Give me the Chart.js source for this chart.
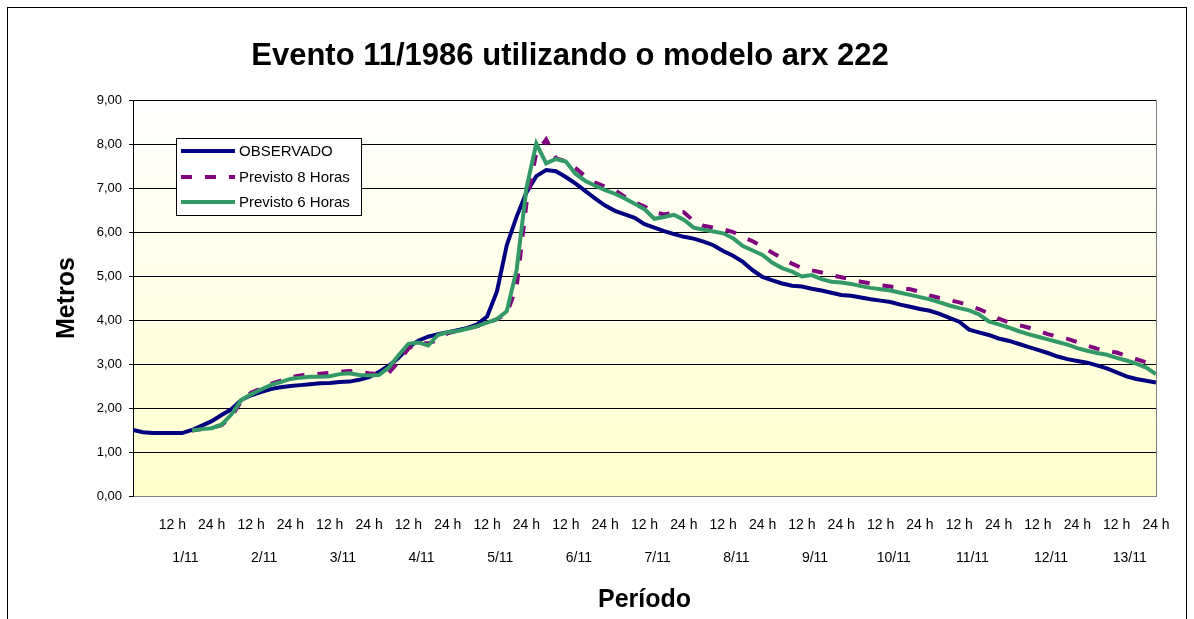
<!DOCTYPE html>
<html><head><meta charset="utf-8">
<script src="https://cdn.jsdelivr.net/npm/chart.js@4.4.1/dist/chart.umd.min.js"></script>
<style>
html,body{margin:0;padding:0;background:#fff;}
#wrap{position:relative;width:1194px;height:619px;overflow:hidden;}
#frame{position:absolute;left:7px;top:7px;width:1180px;height:700px;border:1px solid #000;box-sizing:border-box;}
canvas{position:absolute;left:0;top:0;}
</style></head><body>
<div id="wrap"><div id="frame"></div><canvas id="c" width="1194" height="619"></canvas></div>
<script>
const titleText = 'Evento 11/1986 utilizando o modelo arx 222';
const yTitle = 'Metros';
const xTitle = 'Período';
const days = ['1/11','2/11','3/11','4/11','5/11','6/11','7/11','8/11','9/11','10/11','11/11','12/11','13/11'];
const tickHours = [12,24,36,48,60,72,84,96,108,120,132,144,156,168,180,192,204,216,228,240,252,264,276,288,300,312];
const tickLabels = ['12 h','24 h','12 h','24 h','12 h','24 h','12 h','24 h','12 h','24 h','12 h','24 h','12 h','24 h','12 h','24 h','12 h','24 h','12 h','24 h','12 h','24 h','12 h','24 h','12 h','24 h'];
const hours = [0,3,6,9,12,15,18,21,24,27,30,33,36,39,42,45,48,51,54,57,60,63,66,69,72,75,78,81,84,87,90,93,96,99,102,105,108,111,114,117,120,123,126,129,132,135,138,141,144,147,150,153,156,159,162,165,168,171,174,177,180,183,186,189,192,195,198,201,204,207,210,213,216,219,222,225,228,231,234,237,240,243,246,249,252,255,258,261,264,267,270,273,276,279,282,285,288,291,294,297,300,303,306,309,312];
const observado = [
1.50,1.45,1.43,1.43,1.43,1.43,1.50,1.60,
1.70,1.84,1.97,2.18,2.29,2.36,2.43,2.47,
2.50,2.52,2.54,2.56,2.57,2.59,2.60,2.64,
2.70,2.82,2.96,3.14,3.38,3.53,3.62,3.68,
3.72,3.77,3.82,3.90,4.08,4.65,5.70,6.35,
6.90,7.27,7.41,7.38,7.25,7.10,6.93,6.76,
6.60,6.48,6.40,6.32,6.18,6.10,6.02,5.95,
5.89,5.85,5.78,5.70,5.57,5.46,5.32,5.13,
4.98,4.90,4.83,4.78,4.76,4.71,4.67,4.62,
4.57,4.55,4.51,4.47,4.44,4.41,4.35,4.30,
4.25,4.21,4.14,4.05,3.96,3.78,3.72,3.66,
3.58,3.53,3.46,3.39,3.32,3.25,3.17,3.11,
3.07,3.03,2.97,2.90,2.81,2.72,2.66,2.62,
2.58];
const previsto8 = [
null,null,null,null,null,null,1.49,1.52,
1.55,1.61,1.80,2.15,2.35,2.44,2.55,2.62,
2.70,2.74,2.76,2.78,2.80,2.82,2.84,2.82,
2.79,2.77,2.80,3.05,3.35,3.48,3.47,3.55,
3.70,3.76,3.80,3.86,3.93,4.02,4.15,4.75,
6.65,7.80,8.10,7.68,7.60,7.45,7.26,7.12,
7.03,6.95,6.80,6.67,6.58,6.45,6.40,6.44,
6.45,6.25,6.14,6.10,6.06,6.00,5.88,5.79,
5.66,5.53,5.40,5.28,5.18,5.13,5.08,5.02,
4.97,4.92,4.87,4.83,4.79,4.76,4.73,4.70,
4.64,4.56,4.50,4.45,4.40,4.33,4.25,4.15,
4.03,3.95,3.89,3.83,3.76,3.68,3.62,3.57,
3.50,3.42,3.35,3.30,3.26,3.18,3.11,3.04,
2.95];
const previsto6 = [
null,null,null,null,null,null,1.49,1.52,
1.54,1.62,1.85,2.18,2.31,2.42,2.52,2.59,
2.66,2.69,2.71,2.71,2.72,2.77,2.79,2.75,
2.74,2.75,2.92,3.20,3.46,3.49,3.42,3.66,
3.72,3.75,3.80,3.86,3.94,4.02,4.20,5.14,
7.00,8.01,7.56,7.66,7.60,7.32,7.16,7.05,
6.95,6.87,6.76,6.64,6.52,6.30,6.34,6.39,
6.28,6.10,6.05,6.01,5.97,5.86,5.68,5.58,
5.48,5.30,5.18,5.10,4.99,5.02,4.93,4.87,
4.85,4.82,4.77,4.73,4.70,4.67,4.62,4.57,
4.52,4.47,4.40,4.33,4.27,4.22,4.13,3.97,
3.90,3.83,3.75,3.68,3.62,3.56,3.50,3.44,
3.36,3.30,3.25,3.21,3.14,3.08,3.01,2.92,
2.77];

const FONT = '"Liberation Sans", Arial, Helvetica, sans-serif';
Chart.defaults.font.family = FONT;
Chart.defaults.color = '#000';

const pts = arr => arr.map((v, i) => ({x: hours[i], y: v}));

const decor = {
  id: 'decor',
  beforeDraw(chart) {
    const {ctx, chartArea: a} = chart;
    const g = ctx.createLinearGradient(0, a.top, 0, a.bottom);
    g.addColorStop(0, '#ffffff');
    g.addColorStop(1, '#ffffcc');
    ctx.save();
    ctx.fillStyle = g;
    ctx.fillRect(a.left, a.top, a.right - a.left, a.bottom - a.top);
    ctx.restore();
  },
  afterDraw(chart) {
    const {ctx, chartArea: a, scales} = chart;
    ctx.save();
    ctx.strokeStyle = '#808080';
    ctx.lineWidth = 1;
    ctx.beginPath();
    ctx.moveTo(Math.round(a.right) + 0.5, a.top);
    ctx.lineTo(Math.round(a.right) + 0.5, a.bottom);
    ctx.stroke();

    ctx.fillStyle = '#000';
    ctx.textAlign = 'center';
    ctx.textBaseline = 'alphabetic';
    ctx.font = 'bold 31px ' + FONT;
    ctx.fillText(titleText, 570, 65);

    ctx.font = '14px ' + FONT;
    ctx.textBaseline = 'middle';
    days.forEach((d, i) => ctx.fillText(d, scales.x.getPixelForValue(i * 24 + 16), 558));

    ctx.font = 'bold 25px ' + FONT;
    ctx.textBaseline = 'middle';
    ctx.fillText(xTitle, (a.left + a.right) / 2, 600);
    ctx.save();
    ctx.translate(67, (a.top + a.bottom) / 2);
    ctx.rotate(-Math.PI / 2);
    ctx.fillText(yTitle, 0, 0);
    ctx.restore();

    // legend
    const lx = 176, ly = 138, lw = 185, lh = 77;
    ctx.fillStyle = '#fff';
    ctx.fillRect(lx, ly, lw, lh);
    ctx.strokeStyle = '#000';
    ctx.lineWidth = 1;
    ctx.strokeRect(lx + 0.5, ly + 0.5, lw, lh);
    const rows = [151, 177, 202];
    chart.data.datasets.forEach((ds, i) => {
      const y = rows[i];
      ctx.save();
      ctx.strokeStyle = ds.borderColor;
      ctx.lineWidth = ds.borderWidth;
      ctx.lineCap = 'butt';
      ctx.setLineDash(ds.borderDash || []);
      ctx.beginPath();
      ctx.moveTo(181, y);
      ctx.lineTo(235, y);
      ctx.stroke();
      ctx.restore();
      ctx.fillStyle = '#000';
      ctx.textAlign = 'left';
      ctx.textBaseline = 'middle';
      ctx.font = '15px ' + FONT;
      ctx.fillText(ds.label, 239, y + 1);
    });
    ctx.restore();
  }
};

new Chart(document.getElementById('c'), {
  type: 'line',
  data: {
    datasets: [
      {label: 'OBSERVADO', data: pts(observado), borderColor: '#000080', borderWidth: 4, pointRadius: 0, tension: 0, order: 3},
      {label: 'Previsto 8 Horas', data: pts(previsto8), borderColor: '#800080', borderWidth: 4, borderDash: [11, 13], pointRadius: 0, tension: 0, order: 2},
      {label: 'Previsto 6 Horas', data: pts(previsto6), borderColor: '#339966', borderWidth: 4, pointRadius: 0, tension: 0, order: 1}
    ]
  },
  options: {
    responsive: false,
    animation: false,
    events: [],
    layout: {padding: {top: 100, right: 38, left: 0, bottom: 0}},
    plugins: {legend: {display: false}, tooltip: {enabled: false}, title: {display: false}},
    scales: {
      x: {
        type: 'linear', min: 0, max: 312,
        afterBuildTicks: s => { s.ticks = tickHours.map(v => ({value: v})); },
        afterFit: s => { s.height = 123; },
        grid: {display: false, drawTicks: false},
        border: {display: true, color: '#808080', width: 1},
        ticks: {autoSkip: false, maxRotation: 0, padding: 21, font: {size: 14}, color: '#000',
          callback: (v, i) => tickLabels[i]}
      },
      y: {
        min: 0, max: 9,
        afterFit: s => { s.width = 133; },
        grid: {color: '#000', lineWidth: 1, drawTicks: true, tickLength: 4},
        border: {display: true, color: '#000', width: 1},
        ticks: {stepSize: 1, padding: 7, font: {size: 13}, color: '#000',
          callback: v => v.toFixed(2).replace('.', ',')}
      }
    }
  },
  plugins: [decor]
});
</script>
</body></html>
